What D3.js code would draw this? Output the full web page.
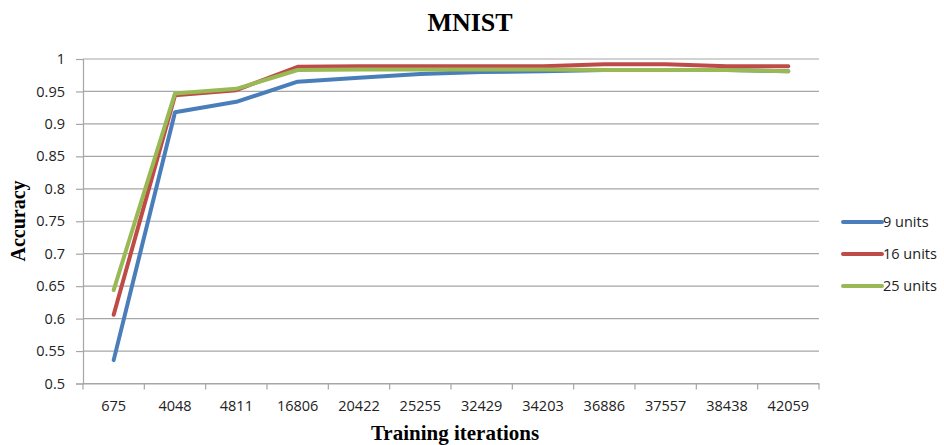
<!DOCTYPE html>
<html>
<head>
<meta charset="utf-8">
<script src="https://cdn.jsdelivr.net/npm/d3@7"></script>
<style>
  html, body { margin: 0; padding: 0; background: #fff; }
  svg { display: block; }
</style>
</head>
<body>
<svg id="chart" width="944" height="445"></svg>
<script>
const categories = ["675","4048","4811","16806","20422","25255","32429","34203","36886","37557","38438","42059"];
const units9  = [0.536,0.918,0.934,0.965,0.971,0.977,0.980,0.981,0.983,0.983,0.983,0.981];
const units16 = [0.606,0.944,0.952,0.988,0.989,0.989,0.989,0.989,0.992,0.992,0.989,0.989];
const units25 = [0.644,0.947,0.954,0.983,0.984,0.984,0.984,0.984,0.983,0.983,0.983,0.981];
const seriesNames = ["9 units","16 units","25 units"];
const yTicks = [0.5,0.55,0.6,0.65,0.7,0.75,0.8,0.85,0.9,0.95,1];
const yTickLabels = ["0.5","0.55","0.6","0.65","0.7","0.75","0.8","0.85","0.9","0.95","1"];

const colors = ["#4a7ebb","#be4b48","#98b954"];
const series = [units9, units16, units25];

const svg = d3.select("#chart");
const plotLeft = 83, plotRight = 819, plotTop = 59, plotBottom = 383.5;

const x = d3.scaleBand().domain(categories).range([plotLeft, plotRight]);
const y = d3.scaleLinear().domain([0.5, 1]).range([plotBottom, plotTop]);

// gridlines
svg.append("g").selectAll("line").data(yTicks).join("line")
  .attr("x1", plotLeft).attr("x2", plotRight)
  .attr("y1", d => y(d)).attr("y2", d => y(d))
  .attr("stroke", "#a6a6a6").attr("stroke-width", 1.2);

// y axis
const yAxis = d3.axisLeft(y).tickValues(yTicks).tickSize(7).tickPadding(11)
  .tickFormat((d, i) => yTickLabels[i]);
const gy = svg.append("g").attr("transform", `translate(${plotLeft},0)`).call(yAxis);
gy.select(".domain").attr("stroke", "#a6a6a6").attr("stroke-width", 1.2);
gy.selectAll(".tick line").attr("stroke", "#a6a6a6").attr("stroke-width", 1.2);
gy.selectAll("text").attr("font-family", "'Open Sans', sans-serif").attr("font-size", 14.5).attr("fill", "#222");

// x axis
const xAxis = d3.axisBottom(x).tickSize(0).tickPadding(17);
const gx = svg.append("g").attr("transform", `translate(0,${plotBottom})`).call(xAxis);
gx.select(".domain").attr("stroke", "#a6a6a6").attr("stroke-width", 1.2);
gx.selectAll("text").attr("font-family", "'Open Sans', sans-serif").attr("font-size", 14.5).attr("fill", "#222");
// boundary tick marks
const bounds = categories.map(c => x(c)).concat([x(categories[categories.length-1]) + x.bandwidth()]);
gx.append("g").selectAll("line").data(bounds).join("line")
  .attr("x1", d => d).attr("x2", d => d).attr("y1", 0).attr("y2", 6)
  .attr("stroke", "#a6a6a6").attr("stroke-width", 1.2);

// lines
const line = d3.line()
  .x((d, i) => x(categories[i]) + x.bandwidth() / 2)
  .y(d => y(d));
svg.append("g").selectAll("path").data(series).join("path")
  .attr("d", d => line(d))
  .attr("fill", "none")
  .attr("stroke", (d, i) => colors[i])
  .attr("stroke-width", 4)
  .attr("stroke-linejoin", "round")
  .attr("stroke-linecap", "round");

// title
svg.append("text").attr("x", 470).attr("y", 31).attr("text-anchor", "middle")
  .attr("font-family", "'Liberation Serif', 'Times New Roman', serif")
  .attr("font-weight", "bold").attr("font-size", 26).attr("fill", "#000")
  .text("MNIST");

// axis titles
svg.append("text").attr("transform", "translate(25,221) rotate(-90)").attr("text-anchor", "middle")
  .attr("font-family", "'Liberation Serif', 'Times New Roman', serif")
  .attr("font-weight", "bold").attr("font-size", 20).attr("fill", "#000")
  .text("Accuracy");
svg.append("text").attr("x", 455).attr("y", 440).attr("text-anchor", "middle")
  .attr("font-family", "'Liberation Serif', 'Times New Roman', serif")
  .attr("font-weight", "bold").attr("font-size", 21).attr("fill", "#000")
  .text("Training iterations");

// legend
const legendY = d3.scalePoint().domain(seriesNames).range([222, 286]);
const lg = svg.append("g").selectAll("g").data(seriesNames).join("g")
  .attr("transform", d => `translate(843,${legendY(d)})`);
lg.append("line").attr("x1", 0).attr("x2", 39).attr("y1", 0).attr("y2", 0)
  .attr("stroke", (d, i) => colors[i]).attr("stroke-width", 4).attr("stroke-linecap", "round");
lg.append("text").attr("x", 40).attr("y", 0).attr("dy", "0.35em")
  .attr("font-family", "'Open Sans', sans-serif").attr("font-size", 14.5).attr("fill", "#222")
  .text(d => d);
</script>
</body>
</html>
